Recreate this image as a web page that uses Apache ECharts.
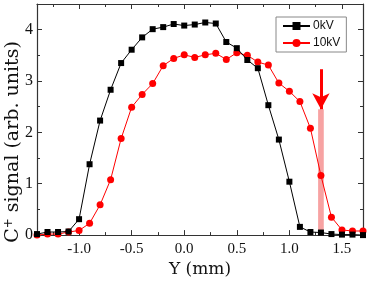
<!DOCTYPE html>
<html>
<head>
<meta charset="utf-8">
<script src="https://cdn.jsdelivr.net/npm/echarts@6/dist/echarts.min.js"></script>
<style>html,body{margin:0;padding:0;background:#fff}#c{width:374px;height:283px}</style>
</head>
<body>
<div id="c"></div>
<script>
const yPositions = [-1.4,-1.3,-1.2,-1.1,-1.0,-0.9,-0.8,-0.7,-0.6,-0.5,-0.4,-0.3,-0.2,-0.1,0.0,0.1,0.2,0.3,0.4,0.5,0.6,0.7,0.8,0.9,1.0,1.1,1.2,1.3,1.4,1.5,1.6,1.7];
const signal0kV = [0.02,0.06,0.06,0.07,0.31,1.38,2.23,2.83,3.35,3.61,3.85,4.01,4.05,4.11,4.08,4.10,4.14,4.12,3.76,3.64,3.41,3.25,2.53,1.86,1.04,0.16,0.06,0.05,0.02,0.01,0.01,0.0];
const signal10kV = [0.0,0.02,0.02,0.06,0.09,0.23,0.59,1.08,1.88,2.49,2.74,2.95,3.30,3.44,3.51,3.46,3.51,3.54,3.42,3.55,3.50,3.37,3.31,2.96,2.80,2.60,2.08,1.16,0.35,0.10,0.08,0.08];
const xMajorTicks = [-1.0,-0.5,0.0,0.5,1.0,1.5];
const xMinorTicks = [-1.25,-0.75,-0.25,0.25,0.75,1.25];
const yMajorTicks = [0,1,2,3,4];
const yMinorTicks = [0.5,1.5,2.5,3.5];
const markerY = 1.3;
const markerBarTop = 2.45;
const arrowStart = 3.23;
const markerBarHalfWidth = 0.027;

const serif = 'Liberation Serif';
const frame = {lineStyle:{color:'#333',width:1.2}};
function xAx(pos, ticks, len, showLine, showLabel){
  return {type:'value', position:pos, min:-1.4, max:1.7,
    axisLine:{show:showLine, onZero:false, lineStyle:{color:'#333',width:1.2}},
    axisTick:{show:true, inside:true, length:len, customValues:ticks, lineStyle:{color:'#333',width:1}},
    axisLabel:{show:showLabel, customValues:ticks, formatter:v=>v.toFixed(1), fontFamily:serif, fontSize:15, color:'#111', margin:6},
    splitLine:{show:false}};
}
function yAx(pos, ticks, len, showLine, showLabel){
  return {type:'value', position:pos, min:0, max:4.5,
    axisLine:{show:showLine, onZero:false, lineStyle:{color:'#333',width:1.2}},
    axisTick:{show:true, inside:true, length:len, customValues:ticks, lineStyle:{color:'#333',width:1}},
    axisLabel:{show:showLabel, customValues:ticks, formatter:v=>String(v), fontFamily:serif, fontSize:16, color:'#111', margin:4},
    splitLine:{show:false}};
}
const xAxes = [xAx('bottom', xMajorTicks, 5, true, true), xAx('bottom', xMinorTicks, 3, false, false), xAx('top', xMajorTicks, 5, true, false), xAx('top', xMinorTicks, 3, false, false)];
xAxes[0].name = 'Y (mm)';
xAxes[0].nameLocation = 'middle';
xAxes[0].nameGap = 24;
xAxes[0].nameTextStyle = {fontFamily:'DejaVu Serif', fontSize:17, color:'#111'};
const yAxes = [yAx('left', yMajorTicks, 5, true, true), yAx('left', yMinorTicks, 3, false, false), yAx('right', yMajorTicks, 5, true, false), yAx('right', yMinorTicks, 3, false, false)];

const chart = echarts.init(document.getElementById('c'));
chart.setOption({
  animation:false,
  grid:{left:37, top:4, right:11, bottom:39, containLabel:false},
  xAxis:xAxes,
  yAxis:yAxes,
  legend:{orient:'vertical', left:276, top:17, width:68, padding:[3,6,3,6], itemGap:5, itemWidth:27, itemHeight:10,
    borderColor:'#888', borderWidth:1, backgroundColor:'#fff',
    textStyle:{fontFamily:'Liberation Sans', fontSize:12, color:'#111', padding:[0,0,0,-2]},
    data:['0kV','10kV']},
  graphic:[{type:'text', x:13, y:142, rotation:Math.PI/2,
    style:{text:'C{sup|+} signal (arb. units)', align:'center', verticalAlign:'middle', fill:'#111',
      font:'19px "DejaVu Serif"', rich:{sup:{fontSize:12, verticalAlign:'top', fontFamily:'DejaVu Serif', padding:[0,0,8,0]}}}}],
  series:[
    {name:'0kV', type:'line', data:yPositions.map((x,i)=>[x,signal0kV[i]]), symbol:'rect', symbolSize:6,
      itemStyle:{color:'#000'}, lineStyle:{color:'#000', width:1}, z:3},
    {name:'10kV', type:'line', data:yPositions.map((x,i)=>[x,signal10kV[i]]), symbol:'circle', symbolSize:7,
      itemStyle:{color:'#ff0000'}, lineStyle:{color:'#ff0000', width:1}, z:2,
      markArea:{silent:true, itemStyle:{color:'rgba(240,70,70,0.5)'},
        data:[[{coord:[markerY-markerBarHalfWidth,0]},{coord:[markerY+markerBarHalfWidth,markerBarTop]}]]},
      markLine:{silent:true, symbol:['none','arrow'], symbolSize:[13,16], label:{show:false},
        lineStyle:{color:'#ff0000', width:3, type:'solid'},
        data:[[{coord:[markerY,arrowStart]},{coord:[markerY,markerBarTop]}]]}}
  ]
});
</script>
</body>
</html>
